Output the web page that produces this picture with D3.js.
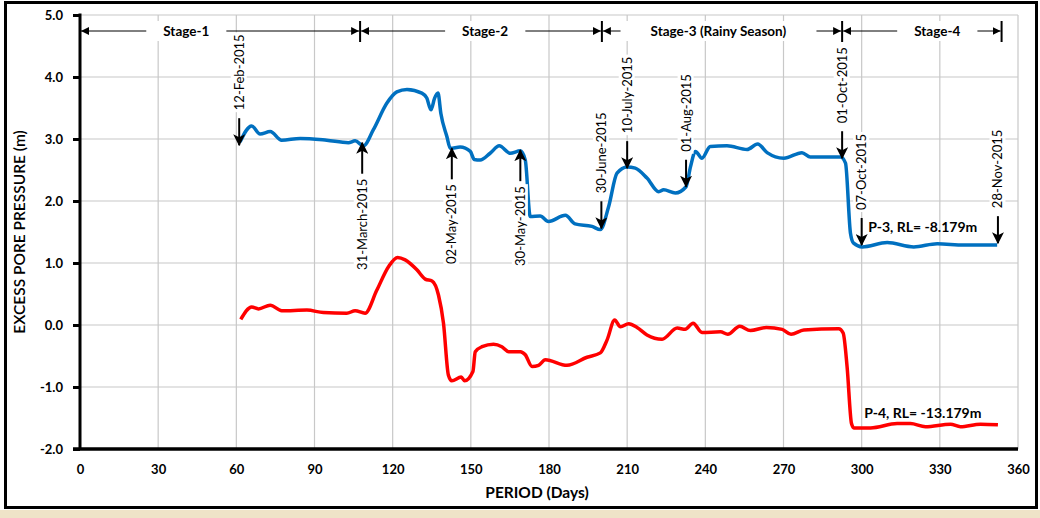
<!DOCTYPE html>
<html>
<head>
<meta charset="utf-8">
<script src="https://cdn.jsdelivr.net/npm/d3@7"></script>
<style>
  body { margin: 0; background: #fff; }
  svg text { font-family: Lato, "Open Sans", sans-serif; fill: #000; }
  .axis text { font-size: 13px; font-weight: 700; }
  .axis line { stroke: #000; stroke-width: 3; }
  .grid line { stroke: #c8c8c8; stroke-width: 1.2; }
</style>
</head>
<body>
<svg id="chart"></svg>
<script>
// P-3 (RL -8.179m) readings
const p3Days = [61.4, 65.9, 69.1, 73, 77.4, 84.5, 94.7, 103, 105.6, 108.8, 112.6, 117.8, 121.6, 125.5, 131.2, 133.1, 134.7, 136.1, 137.4, 138.5,
  140.8, 142.1, 145.9, 149.8, 151.3, 153.6, 157.4, 160.9, 165.1, 169, 170.9, 172.8, 176.6, 179.8, 186.3, 190, 196.5, 199.7, 202.9, 206.1,
  210, 213.1, 217.6, 222.1, 224, 228.5, 232.6, 234.3, 236.2, 238.7, 241.9, 248.3, 256, 260.1, 263.7, 270.1, 277.1, 280.3, 291.9, 293.8,
  295.7, 296.9, 300.2, 309.8, 320, 329, 339.2, 352];
const p3Vals = [2.95, 3.21, 3.08, 3.12, 2.98, 3.01, 2.98, 2.94, 2.97, 2.89, 3.15, 3.58, 3.76, 3.80, 3.74, 3.66, 3.47, 3.66, 3.74, 3.41,
  3.04, 2.85, 2.87, 2.80, 2.67, 2.66, 2.77, 2.89, 2.77, 2.81, 2.66, 1.75, 1.76, 1.67, 1.77, 1.63, 1.59, 1.54, 1.91, 2.45,
  2.55, 2.53, 2.37, 2.15, 2.18, 2.13, 2.23, 2.55, 2.80, 2.69, 2.88, 2.89, 2.83, 2.92, 2.78, 2.69, 2.78, 2.71, 2.71, 2.61,
  1.48, 1.32, 1.26, 1.33, 1.26, 1.31, 1.29, 1.29];

// P-4 (RL -13.179m) readings
const p4Days = [61.7, 65.9, 68.5, 73, 77.4, 87.1, 93.4, 102.4, 105.6, 109.4, 113.9, 118.4, 121.9, 124.8, 129.3, 132.5, 135.1, 137.6, 139.5, 141.4,
  142.7, 146.3, 147.6, 150.8, 151.7, 154.3, 158.7, 161.9, 164.5, 169, 170.9, 173.5, 176, 178.6, 186.9, 194.6, 199.7, 202.3, 205.2, 207.4,
  210.6, 213.8, 217.6, 223.4, 229.2, 232.3, 235.3, 238.7, 245.8, 248.6, 253.2, 257.3, 263.4, 269.5, 272.9, 277.8, 291.2, 292.9, 294.4, 296.1,
  297, 303.4, 313.6, 318.7, 324.5, 334.1, 337.9, 345.6, 352.3];
const p4Vals = [0.09, 0.29, 0.26, 0.32, 0.23, 0.24, 0.20, 0.19, 0.23, 0.19, 0.56, 0.94, 1.09, 1.05, 0.89, 0.74, 0.71, 0.48, 0.03, -0.81,
  -0.90, -0.84, -0.90, -0.75, -0.43, -0.35, -0.31, -0.35, -0.43, -0.43, -0.48, -0.67, -0.65, -0.56, -0.65, -0.52, -0.45, -0.24, 0.08, -0.03,
  0.02, -0.04, -0.16, -0.23, -0.05, -0.07, 0.03, -0.12, -0.11, -0.15, -0.02, -0.09, -0.04, -0.07, -0.15, -0.08, -0.06, -0.13, -0.67, -1.59,
  -1.66, -1.66, -1.59, -1.59, -1.64, -1.60, -1.64, -1.60, -1.61];

const xTicks = [0, 30, 60, 90, 120, 150, 180, 210, 240, 270, 300, 330, 360];
const yTicks = [-2, -1, 0, 1, 2, 3, 4, 5];

// construction stages (day boundaries) and where each label sits
const stageBounds = [0, 107.5, 200.3, 292.5, 353.7];
const stageNames = ['Stage-1', 'Stage-2', 'Stage-3 (Rainy Season)', 'Stage-4'];
const stageLabelDays = [40.8, 155.5, 245, 329];

// dated events marked on the P-3 curve
const eventNames = ['12-Feb-2015', '31-March-2015', '02-May-2015', '30-May-2015', '30-June-2015', '10-July-2015',
  '01-Aug-2015', '01-Oct-2015', '07-Oct-2015', '28-Nov-2015'];
const eventDays = [61.1, 108.3, 142.7, 169, 200.1, 210, 232.6, 292.5, 300, 352.3];
const eventVals = [2.90, 2.94, 2.85, 2.82, 1.56, 2.53, 2.23, 2.69, 1.29, 1.32];
const eventDirs = ['down', 'up', 'up', 'up', 'down', 'down', 'down', 'down', 'down', 'down'];

const seriesNames = ['P-3, RL= -8.179m', 'P-4, RL= -13.179m'];
const seriesLabelAt = [[302.5, 1.58], [301, -1.42]];

class PressureChart {
  constructor(_config) {
    this.config = {
      parentElement: _config.parentElement,
      containerWidth: _config.containerWidth,
      containerHeight: _config.containerHeight,
      margin: {top: 15, right: 22, bottom: 69, left: 80}
    };
    this.initVis();
  }

  initVis() {
    let vis = this;
    vis.width = vis.config.containerWidth - vis.config.margin.left - vis.config.margin.right;
    vis.height = vis.config.containerHeight - vis.config.margin.top - vis.config.margin.bottom;

    vis.xScale = d3.scaleLinear().domain([0, 360]).range([0, vis.width]);
    vis.yScale = d3.scaleLinear().domain([-2, 5]).range([vis.height, 0]);

    vis.svg = d3.select(vis.config.parentElement)
        .attr('width', vis.config.containerWidth)
        .attr('height', vis.config.containerHeight);

    // beige strip under the frame + outer frame
    vis.svg.append('rect')
        .attr('x', 0).attr('y', 510)
        .attr('width', vis.config.containerWidth).attr('height', 8)
        .attr('fill', '#efe3c8');
    vis.svg.append('rect')
        .attr('x', 5.5).attr('y', 2.5)
        .attr('width', 1031).attr('height', 505)
        .attr('fill', '#fff')
        .attr('stroke', '#000').attr('stroke-width', 3);

    const defs = vis.svg.append('defs');
    defs.append('marker')
        .attr('id', 'stageHead')
        .attr('markerUnits', 'userSpaceOnUse')
        .attr('viewBox', '0 0 8 8')
        .attr('refX', 8).attr('refY', 4)
        .attr('markerWidth', 8).attr('markerHeight', 8)
        .attr('orient', 'auto-start-reverse')
      .append('path').attr('d', 'M0,0L8,4L0,8z').attr('fill', '#000');
    defs.append('marker')
        .attr('id', 'eventHead')
        .attr('markerUnits', 'userSpaceOnUse')
        .attr('viewBox', '0 0 12 12')
        .attr('refX', 11).attr('refY', 6)
        .attr('markerWidth', 12).attr('markerHeight', 12)
        .attr('orient', 'auto')
      .append('path').attr('d', 'M0,0L12,6L0,12L3,6z').attr('fill', '#000');

    vis.chart = vis.svg.append('g')
        .attr('transform', `translate(${vis.config.margin.left},${vis.config.margin.top})`);

    vis.renderVis();
  }

  renderVis() {
    let vis = this;
    const x = vis.xScale, y = vis.yScale;

    // gridlines
    const grid = vis.chart.append('g').attr('class', 'grid');
    grid.selectAll('.vg').data(xTicks.filter(d => d > 0)).join('line')
        .attr('x1', d => x(d)).attr('x2', d => x(d))
        .attr('y1', 0).attr('y2', vis.height);
    grid.selectAll('.hg').data(yTicks.filter(d => d > -2)).join('line')
        .attr('x1', 0).attr('x2', vis.width)
        .attr('y1', d => y(d)).attr('y2', d => y(d));

    // axes
    const xAxis = d3.axisBottom(x).tickValues(xTicks).tickSize(0).tickPadding(16);
    const yAxis = d3.axisLeft(y).tickValues(yTicks).tickSize(7).tickPadding(10)
        .tickFormat(d => d.toFixed(1));
    const xAxisG = vis.chart.append('g').attr('class', 'axis')
        .attr('transform', `translate(0,${vis.height})`).call(xAxis);
    const yAxisG = vis.chart.append('g').attr('class', 'axis').call(yAxis);
    xAxisG.select('.domain').remove();
    yAxisG.select('.domain').remove();
    xAxisG.selectAll('text').attr('dy', '0.71em');
    yAxisG.selectAll('text').attr('dy', '0.36em');
    vis.chart.append('line')
        .attr('x1', 0).attr('x2', 0).attr('y1', -1.5).attr('y2', vis.height)
        .attr('stroke', '#000').attr('stroke-width', 3);
    vis.chart.append('line')
        .attr('x1', -7).attr('x2', vis.width).attr('y1', vis.height).attr('y2', vis.height)
        .attr('stroke', '#000').attr('stroke-width', 3.5);

    // axis titles
    vis.chart.append('text')
        .attr('x', x(180) - 12).attr('y', vis.height + 49)
        .attr('text-anchor', 'middle')
        .attr('font-size', 15.5).attr('font-weight', 700)
        .text('PERIOD (Days)');
    vis.chart.append('text')
        .attr('transform', `translate(-55,${y(1.5)}) rotate(-90)`)
        .attr('text-anchor', 'middle')
        .attr('font-size', 15.5).attr('font-weight', 600)
        .text('EXCESS PORE PRESSURE (m)');

    // series curves
    const line = d3.line()
        .x(d => x(d[0])).y(d => y(d[1]))
        .curve(d3.curveMonotoneX);
    const p3 = p3Days.map((d, i) => [d, p3Vals[i]]);
    const p4 = p4Days.map((d, i) => [d, p4Vals[i]]);
    vis.chart.append('path').datum(p3)
        .attr('d', line).attr('fill', 'none')
        .attr('stroke', '#0070c0').attr('stroke-width', 3.5)
        .attr('stroke-linejoin', 'round');
    vis.chart.append('path').datum(p4)
        .attr('d', line).attr('fill', 'none')
        .attr('stroke', '#ff0000').attr('stroke-width', 3.5)
        .attr('stroke-linejoin', 'round');

    // stage row
    const stageY = 16;
    const stages = vis.chart.append('g');
    stageBounds.forEach(b => {
      stages.append('line')
          .attr('x1', x(b)).attr('x2', x(b))
          .attr('y1', stageY - 10).attr('y2', stageY + 11)
          .attr('stroke', '#000').attr('stroke-width', 2);
    });
    stageNames.forEach((name, i) => {
      const t = stages.append('text')
          .attr('x', x(stageLabelDays[i])).attr('y', stageY)
          .attr('dy', '0.35em')
          .attr('text-anchor', 'middle')
          .attr('font-size', 13.5).attr('font-weight', 700)
          .text(name);
      const bb = t.node().getBBox();
      const pad = i === 2 ? 30 : 17;
      stages.insert('rect', 'text')
          .attr('x', bb.x - pad).attr('y', stageY - 10)
          .attr('width', bb.width + 2 * pad).attr('height', 20)
          .attr('fill', '#fff');
      stages.append('line')
          .attr('x1', x(stageBounds[i]) + 1).attr('x2', bb.x - pad)
          .attr('y1', stageY).attr('y2', stageY)
          .attr('stroke', '#000').attr('stroke-width', 1)
          .attr('marker-start', 'url(#stageHead)');
      stages.append('line')
          .attr('x1', bb.x + bb.width + pad).attr('x2', x(stageBounds[i + 1]) - 1)
          .attr('y1', stageY).attr('y2', stageY)
          .attr('stroke', '#000').attr('stroke-width', 1)
          .attr('marker-end', 'url(#stageHead)');
    });

    // event arrows + dates
    const events = vis.chart.append('g');
    eventNames.forEach((name, i) => {
      const ex = x(eventDays[i]);
      const tip = y(eventVals[i]);
      const down = eventDirs[i] === 'down';
      const tail = down ? tip - 27 : tip + 31;
      const textEnd = down ? tail - 8 : tail + 5;
      events.append('line')
          .attr('x1', ex).attr('x2', ex)
          .attr('y1', tail).attr('y2', tip)
          .attr('stroke', '#000').attr('stroke-width', 2)
          .attr('marker-end', 'url(#eventHead)');
      const g = events.append('g')
          .attr('transform', `translate(${ex},${textEnd}) rotate(-90)`);
      const t = g.append('text')
          .attr('text-anchor', down ? 'start' : 'end')
          .attr('dy', '0.35em')
          .attr('font-size', 13)
          .text(name);
      const bb = t.node().getBBox();
      g.insert('rect', 'text')
          .attr('x', bb.x - 2).attr('y', bb.y)
          .attr('width', bb.width + 4).attr('height', bb.height)
          .attr('fill', '#fff');
    });

    // series labels
    seriesNames.forEach((name, i) => {
      vis.chart.append('text')
          .attr('x', x(seriesLabelAt[i][0])).attr('y', y(seriesLabelAt[i][1]))
          .attr('dy', '0.35em')
          .attr('font-size', 14).attr('font-weight', 700)
          .text(name);
    });
  }
}

new PressureChart({parentElement: '#chart', containerWidth: 1040, containerHeight: 518});
</script>
</body>
</html>
